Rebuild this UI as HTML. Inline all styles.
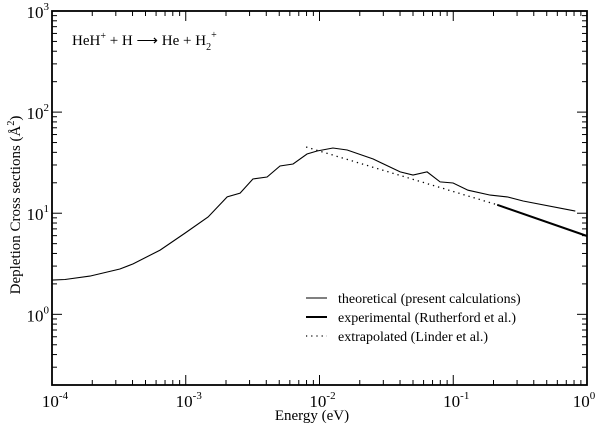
<!DOCTYPE html>
<html><head><meta charset="utf-8"><style>
html,body{margin:0;padding:0;background:#fff;}
svg{display:block;font-family:"Liberation Serif",serif;}
</style></head><body>
<svg id="chart" width="600" height="428" viewBox="0 0 600 428" xmlns="http://www.w3.org/2000/svg">
<g id="marks"></g>
</svg>
<script>
const theoE = [1e-4,1.25e-4,1.92e-4,3.22e-4,4.04e-4,6.43e-4,9.9e-4,1.47e-3,2.04e-3,2.55e-3,3.18e-3,4.06e-3,5.07e-3,6.35e-3,8.07e-3,9.6e-3,1.26e-2,1.61e-2,2.52e-2,4.01e-2,5.0e-2,6.38e-2,7.98e-2,9.98e-2,0.129,0.189,0.253,0.333,0.817];
const theoS = [2.18,2.21,2.39,2.81,3.15,4.32,6.37,9.17,14.5,15.8,21.8,22.8,29.3,30.7,38.5,41.2,44.2,42.2,34.4,25.6,23.9,25.6,20.4,19.9,16.9,15.1,14.5,13.2,10.5];
const expE = [0.213,1.0];
const expS = [12.1,5.95];
const extE = [7.94e-3,0.213];
const extS = [45.2,12.1];
const xTickExp = [-4,-3,-2,-1,0];
const yTickExp = [0,1,2,3];

const NS="http://www.w3.org/2000/svg";
const L=52,R=587,T=11,B=385;
const xMin=-4,xMax=0,yMin=Math.log10(0.2),yMax=3;
function X(e){return L+(Math.log10(e)-xMin)/(xMax-xMin)*(R-L);}
function Y(s){return B-(Math.log10(s)-yMin)/(yMax-yMin)*(B-T);}
const g=document.getElementById('marks');
function el(tag,attrs){const e=document.createElementNS(NS,tag);for(const k in attrs)e.setAttribute(k,attrs[k]);g.appendChild(e);return e;}

const frame=el('rect',{x:L,y:T,width:R-L,height:B-T,fill:'none',stroke:'#000','stroke-width':1.8});



for(let d=xMin;d<=xMax;d++){
  for(let m=1;m<10;m++){
    if(d===xMax&&m>1)break;
    const x=X(m*Math.pow(10,d));const len=m===1?10:5;
    const t1=el('line',{x1:x,y1:B,x2:x,y2:B-len,stroke:'#000','stroke-width':1});
    
    
    const t2=el('line',{x1:x,y1:T,x2:x,y2:T+len,stroke:'#000','stroke-width':1});
    
    
  }
}
xTickExp.forEach(p=>{
  const t=el('text',{x:Math.min(X(Math.pow(10,p))+3,584),y:407,'text-anchor':'middle','font-size':17});
  t.innerHTML='10<tspan dy="-8" font-size="11">'+p+'</tspan>';
  
  
});
for(let d=-1;d<=3;d++){
  for(let m=1;m<10;m++){
    const v=m*Math.pow(10,d);
    if(v<0.2-1e-9||v>1000+1e-9)continue;
    const y=Y(v);const len=m===1?10:5;
    const t1=el('line',{x1:L,y1:y,x2:L+len,y2:y,stroke:'#000','stroke-width':1});
    
    
    const t2=el('line',{x1:R,y1:y,x2:R-len,y2:y,stroke:'#000','stroke-width':1});
    
    
  }
}
yTickExp.forEach(p=>{
  const t=el('text',{x:49,y:Y(Math.pow(10,p))+7,'text-anchor':'end','font-size':17});
  t.innerHTML='10<tspan dy="-8" font-size="11">'+p+'</tspan>';
  
  
});
function path(E,S){return E.map((e,i)=>(i?'L':'M')+X(e).toFixed(1)+','+Y(S[i]).toFixed(1)).join(' ');}
const ext=el('path',{d:path(extE,extS),fill:'none',stroke:'#000','stroke-width':1.3,'stroke-dasharray':'1.3,4'});


const th=el('path',{d:path(theoE,theoS),fill:'none',stroke:'#000','stroke-width':1.1});


const ex=el('path',{d:path(expE,expS),fill:'none',stroke:'#000','stroke-width':2});


</script>
<svg width="600" height="428" style="position:absolute;left:0;top:0" xmlns="http://www.w3.org/2000/svg">
<g font-family="Liberation Serif, serif" fill="#000">
<text x="72" y="45" font-size="15">HeH<tspan dy="-6" font-size="10">+</tspan><tspan dy="6"> + H </tspan><tspan>⟶</tspan><tspan> He + H</tspan><tspan dy="5" font-size="10">2</tspan><tspan dy="-12" font-size="10">+</tspan></text>
<text x="312" y="420" font-size="15" text-anchor="middle">Energy (eV)</text>
<text transform="translate(20,205) rotate(-90)" font-size="15" text-anchor="middle">Depletion Cross sections (Å<tspan dy="-6" font-size="10">2</tspan><tspan dy="6">)</tspan></text>
<g>
<line x1="306" y1="298" x2="327" y2="298" stroke="#000" stroke-width="1.1"/>
<text x="338" y="303" font-size="14">theoretical (present calculations)</text>
<line x1="306" y1="317" x2="327" y2="317" stroke="#000" stroke-width="2"/>
<text x="338" y="322" font-size="14">experimental (Rutherford et al.)</text>
<line x1="306" y1="336" x2="327" y2="336" stroke="#000" stroke-width="1.2" stroke-dasharray="1.2,4"/>
<text x="338" y="341" font-size="14">extrapolated (Linder et al.)</text>
</g>
</g>
</svg>
</body></html>
